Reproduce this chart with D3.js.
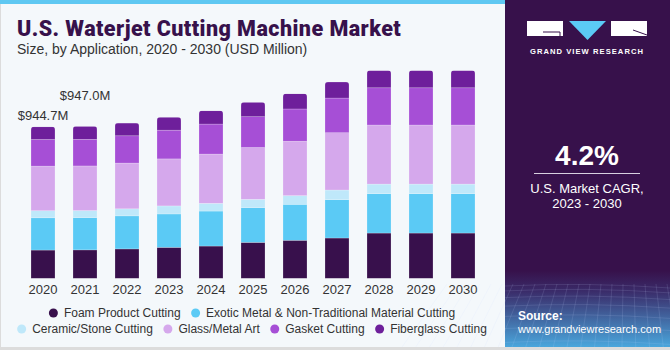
<!DOCTYPE html>
<html>
<head>
<meta charset="utf-8">
<script src="https://cdn.jsdelivr.net/npm/d3@7"></script>
<style>
  body { margin: 0; background: #dcdcdc; }
  svg { display: block; font-family: "Liberation Sans", Arial, sans-serif; }
</style>
</head>
<body>
<svg id="chart" width="670" height="350"></svg>
<script>
const years = ['2020','2021','2022','2023','2024','2025','2026','2027','2028','2029','2030'];
const foam = [176,177,183,193,201,224,237,251,282,282,282];
const exotic = [201,201,206,208,218,216,224,239,245,245,245];
const ceramic = [44,44,44,50,48,52,54,60,60,60,60];
const glass = [278,278,285,293,307,323,339,357,368,368,368];
const gasket = [166,166,170,179,187,192,201,216,232,232,232];
const fiberglass = [79,81,79,81,83,90,95,100,108,108,108];
const seriesNames = ['Foam Product Cutting','Exotic Metal & Non-Traditional Material Cutting','Ceramic/Stone Cutting','Glass/Metal Art','Gasket Cutting','Fiberglass Cutting'];
const colors = ['#38104c','#5bcaf5','#bfe8fa','#d5a8ec','#a64fd6','#6e1f9b'];
const valueLabels = [{ year: '2020', text: '$944.7M', dy: 7 }, { year: '2021', text: '$947.0M', dy: 26 }];

const svg = d3.select('#chart');

// chart panel
svg.append('rect').attr('x', 1).attr('y', 0).attr('width', 505).attr('height', 347).attr('fill', '#f4f8fb');
svg.append('rect').attr('x', 0).attr('y', 0).attr('width', 506).attr('height', 4).attr('fill', '#5fc8f2');

svg.append('text').attr('x', 17).attr('y', 36)
  .attr('font-family', 'Roboto, sans-serif').attr('font-weight', 900).attr('font-size', 21.5)
  .attr('letter-spacing', 0.45)
  .attr('fill', '#37114b').text('U.S. Waterjet Cutting Machine Market');
svg.append('text').attr('x', 17).attr('y', 54)
  .attr('font-size', 14).attr('fill', '#333').text('Size, by Application, 2020 - 2030 (USD Million)');

const table = years.map((yr, i) => ({
  year: yr, foam: foam[i], exotic: exotic[i], ceramic: ceramic[i],
  glass: glass[i], gasket: gasket[i], fiberglass: fiberglass[i]
}));
const keys = ['foam','exotic','ceramic','glass','gasket','fiberglass'];
const stacked = d3.stack().keys(keys)(table);

const x = d3.scaleBand().domain(years).range([22, 484]).paddingInner(0.4286).paddingOuter(0.2143);
const baseY = 278.3;
const y = d3.scaleLinear().domain([0, 1300]).range([baseY, baseY - 1300 * 0.1605]);
const totals = table.map(d => keys.reduce((s, k) => s + d[k], 0));

const defs = svg.append('defs');
years.forEach((yr, i) => {
  defs.append('clipPath').attr('id', 'clip' + yr)
    .append('rect')
    .attr('x', x(yr)).attr('width', x.bandwidth())
    .attr('y', y(totals[i])).attr('height', baseY - y(totals[i]) + 4)
    .attr('rx', 3);
});

const barsG = svg.append('g');
years.forEach((yr, i) => {
  const g = barsG.append('g').attr('clip-path', `url(#clip${yr})`);
  stacked.forEach((s, si) => {
    const d = s[i];
    g.append('rect')
      .attr('x', x(yr)).attr('width', x.bandwidth())
      .attr('y', y(d[1])).attr('height', y(d[0]) - y(d[1]))
      .attr('fill', colors[si])
      .attr('stroke', 'rgba(255,255,255,0.35)').attr('stroke-width', 0.6);
  });
});

const xAxis = svg.append('g').attr('transform', `translate(0,${baseY})`)
  .call(d3.axisBottom(x).tickSize(0).tickPadding(6));
xAxis.select('.domain').remove();
xAxis.selectAll('text').attr('font-size', 13).attr('fill', '#333')
  .attr('font-family', '"Liberation Sans", Arial, sans-serif');

valueLabels.forEach(l => {
  const i = years.indexOf(l.year);
  svg.append('text')
    .attr('x', x(l.year) + x.bandwidth() / 2)
    .attr('y', y(totals[i]) - l.dy)
    .attr('text-anchor', 'middle').attr('font-size', 13).attr('fill', '#333')
    .text(l.text);
});

// legend
const rows = [[0, 1], [2, 3, 4, 5]];
const rowY = [313, 329];
rows.forEach((row, ri) => {
  const g = svg.append('g');
  let cx = 0;
  row.forEach(si => {
    const item = g.append('g').attr('transform', `translate(${cx},0)`);
    item.append('circle').attr('cx', 0).attr('cy', 0).attr('r', 4.5).attr('fill', colors[si]);
    const t = item.append('text').attr('x', 10.5).attr('y', 4.3)
      .attr('font-size', 12).attr('fill', '#333').text(seriesNames[si]);
    cx += 10.5 + t.node().getComputedTextLength() + 15;
  });
  const width = cx - 15 + 4.5;
  g.attr('transform', `translate(${252 - width / 2 + 4.5},${rowY[ri]})`);
});

// right panel
const grad = defs.append('linearGradient').attr('id', 'panelGrad').attr('x1', 0).attr('y1', 0).attr('x2', 0).attr('y2', 1);
grad.append('stop').attr('offset', '0.78').attr('stop-color', '#37114b');
grad.append('stop').attr('offset', '0.84').attr('stop-color', '#3a2c6a');
grad.append('stop').attr('offset', '1').attr('stop-color', '#4aa6dc');
svg.append('rect').attr('x', 505).attr('y', 0).attr('width', 165).attr('height', 347).attr('fill', 'url(#panelGrad)');

// faint grid in the lower panel
const gridG = svg.append('g').attr('stroke', 'rgba(200,220,255,0.22)').attr('stroke-width', 0.6).attr('fill', 'none');
d3.range(0, 9).forEach(k => {
  const yy = 286 + k * k * 0.9 + k * 4;
  gridG.append('path').attr('d', `M505,${yy} Q587,${yy - 4} 670,${yy + 2}`);
});
d3.range(-6, 20).forEach(k => {
  const xx = 505 + k * 11;
  gridG.append('path').attr('d', `M${xx + 8},284 L${xx - (587 - xx) * 0.25},347`);
});

// logo
const logo = svg.append('g');
logo.append('rect').attr('x', 527).attr('y', 21).attr('width', 36).attr('height', 15).attr('fill', '#fff');
logo.append('path').attr('d', 'M543,32 L560,32 L560,36').attr('stroke', '#37114b').attr('stroke-width', 1).attr('fill', 'none');
logo.append('path').attr('d', 'M569,21 L606,21 L587.5,40 Z').attr('fill', '#5bcaf5');
logo.append('rect').attr('x', 611).attr('y', 21).attr('width', 36).attr('height', 15).attr('fill', '#fff');
logo.append('path').attr('d', 'M633,30 L647,35').attr('stroke', '#37114b').attr('stroke-width', 1);
svg.append('text').attr('x', 587).attr('y', 53.5).attr('text-anchor', 'middle')
  .attr('font-size', 7.6).attr('font-weight', 'bold').attr('letter-spacing', 1.05)
  .attr('fill', '#fff').text('GRAND VIEW RESEARCH');

svg.append('text').attr('x', 587).attr('y', 165).attr('text-anchor', 'middle')
  .attr('font-size', 28).attr('font-weight', 'bold').attr('fill', '#fff').text('4.2%');
svg.append('line').attr('x1', 534).attr('x2', 640).attr('y1', 173.5).attr('y2', 173.5)
  .attr('stroke', '#d8d0e0').attr('stroke-width', 1);
svg.append('text').attr('x', 587).attr('y', 192.5).attr('text-anchor', 'middle')
  .attr('font-size', 13).attr('fill', '#fff').text('U.S. Market CAGR,');
svg.append('text').attr('x', 587).attr('y', 208).attr('text-anchor', 'middle')
  .attr('font-size', 13).attr('fill', '#fff').text('2023 - 2030');

svg.append('text').attr('x', 518).attr('y', 319.5)
  .attr('font-size', 12).attr('font-weight', 'bold').attr('fill', '#fff').text('Source:');
svg.append('text').attr('x', 518).attr('y', 333)
  .attr('font-size', 11).attr('fill', '#fff').text('www.grandviewresearch.com');
</script>
</body>
</html>
